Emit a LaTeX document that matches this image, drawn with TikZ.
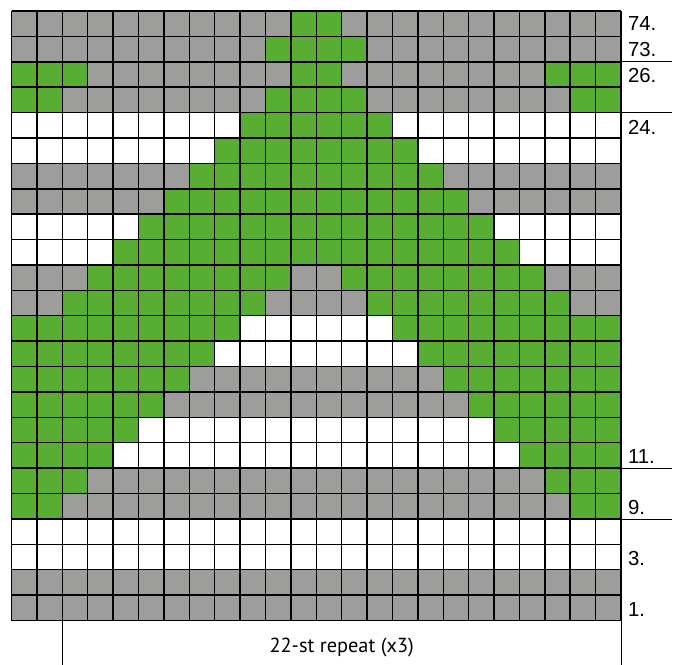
\documentclass[tikz,border=0pt]{standalone}
\usepackage{fontspec}
\setmainfont{Liberation Sans}
\newfontfamily\repeatfont{PT Sans}
\definecolor{chartgreen}{RGB}{88,173,51}
\definecolor{chartgrey}{RGB}{157,157,156}

\begin{document}
\begin{tikzpicture}[x=0.9cm, y=0.9cm,
    gridline/.style={line width=1.5pt},
    guide/.style={line width=0.8pt},
    rowlabel/.style={anchor=west, inner sep=0pt, font=\fontsize{20.5}{24}\selectfont}
]
\useasboundingbox (-0.453,0.433) rectangle (26.244,-25.732);

% row backgrounds (row 0 at the top)
\foreach \r/\col in {0/chartgrey,1/chartgrey,2/chartgrey,3/chartgrey,4/white,5/white,
    6/chartgrey,7/chartgrey,8/white,9/white,10/chartgrey,11/chartgrey,12/white,13/white,
    14/chartgrey,15/chartgrey,16/white,17/white,18/chartgrey,19/chartgrey,20/white,21/white,
    22/chartgrey,23/chartgrey}
  \fill[\col] (0,-\r) rectangle (24,-\r-1);

% green stitches: row/first/last
\foreach \r/\a/\b in {0/11/12, 1/10/13, 2/0/2, 2/11/12, 2/21/23, 3/0/1, 3/10/13, 3/22/23,
    4/9/14, 5/8/15, 6/7/16, 7/6/17, 8/5/18, 9/4/19, 10/3/10, 10/13/20, 11/2/9, 11/14/21,
    12/0/8, 12/15/23, 13/0/7, 13/16/23, 14/0/6, 14/17/23, 15/0/5, 15/18/23,
    16/0/4, 16/19/23, 17/0/3, 17/20/23, 18/0/2, 18/21/23, 19/0/1, 19/22/23}
  \fill[chartgreen] (\a,-\r) rectangle (\b+1,-\r-1);

\draw[gridline, step=0.9cm] (0,-24) grid (24,0);

% row numbers
\node[rowlabel] (r74) at (24.27,-0.5) {74.};
\node[rowlabel] (r73) at (24.27,-1.5) {73.};
\node[rowlabel] (r26) at (24.27,-2.55) {26.};
\node[rowlabel] (r24) at (24.27,-4.6) {24.};
\node[rowlabel] (r11) at (24.27,-17.55) {11.};
\node[rowlabel] (r9) at (24.27,-19.55) {9.};
\node[rowlabel] (r3) at (24.27,-21.55) {3.};
\node[rowlabel] (r1) at (24.27,-23.55) {1.};

\draw[guide] (24,-2) -- (26.0,-2);
\draw[guide] (24,-4) -- (26.0,-4);
\draw[guide] (24,-18) -- (26.0,-18);
\draw[guide] (24,-20) -- (26.0,-20);

% repeat bracket
\coordinate (repL) at (2,-24);
\coordinate (repR) at (24,-24);
\draw[guide] (repL) -- ++(0,-1.75);
\draw[guide] (repR) -- ++(0,-1.75);
\node[font=\repeatfont\fontsize{20.5}{24}\selectfont] (rep) at (13,-25.08) {22-st repeat (x3)};
\end{tikzpicture}
\end{document}
